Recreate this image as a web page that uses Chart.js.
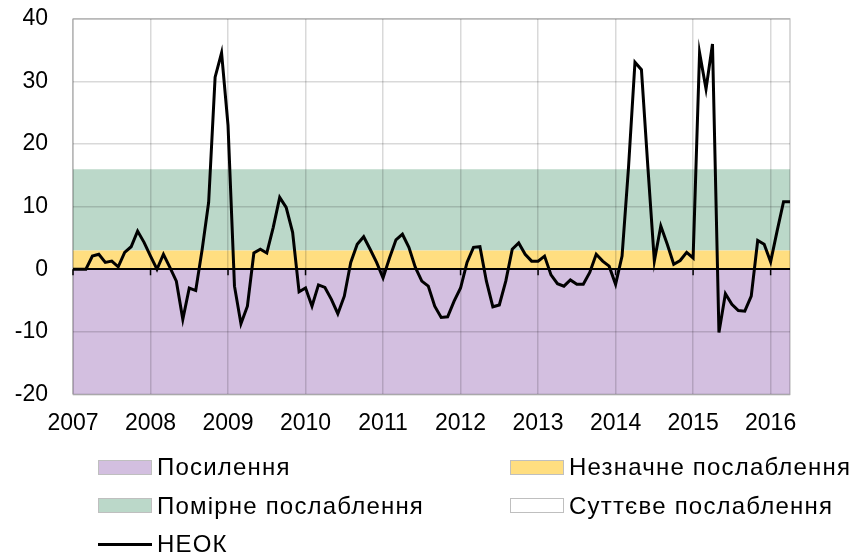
<!DOCTYPE html>
<html>
<head>
<meta charset="utf-8">
<script src="https://cdn.jsdelivr.net/npm/chart.js@4"></script>
<style>
  body { margin: 0; background: #fff; font-family: "Liberation Sans", Arial, sans-serif; }
  #wrap { position: relative; width: 855px; height: 557px; }
  #chartBox { position: absolute; left: 0; top: 0; width: 855px; height: 452px; }
  #legend {
    position: absolute; left: 98px; top: 448px;
    display: grid; grid-template-columns: 412px auto; grid-auto-rows: 38.5px;
    font-size: 24px; letter-spacing: 1.2px; color: #000;
  }
  .item { display: flex; align-items: center; white-space: nowrap; }
  .swatch { width: 52px; height: 13px; border: 1px solid #bfbfbf; margin-right: 5px; }
  .line { width: 54px; height: 0; border-top: 3px solid #000; margin-right: 5px; }
</style>
</head>
<body>
<div id="wrap">
  <div id="chartBox"><canvas id="myChart"></canvas></div>
  <div id="legend"></div>
</div>
<script>
//Data
const yearLabels = ['2007', '2008', '2009', '2010', '2011', '2012', '2013', '2014', '2015', '2016']
const neok = [
  0, 0, 0, 2.1, 2.4, 1.1, 1.3, 0.4, 2.7, 3.6, 6.1, 4.3,
  2.1, 0, 2.4, 0.3, -1.9, -8.0, -3.0, -3.4, 3.2, 10.7, 30.7, 34.6,
  23.0, -2.7, -8.7, -5.9, 2.6, 3.2, 2.6, 6.7, 11.5, 9.9, 5.9, -3.6,
  -3.0, -5.9, -2.5, -2.9, -4.8, -7.1, -4.3, 1.1, 4.0, 5.2, 3.2, 1.1,
  -1.4, 1.8, 4.7, 5.6, 3.5, 0.3, -1.9, -2.7, -5.9, -7.7, -7.6, -5.1,
  -3.0, 1.1, 3.5, 3.6, -1.9, -6.0, -5.7, -1.9, 3.2, 4.2, 2.4, 1.3,
  1.3, 2.1, -0.9, -2.3, -2.7, -1.7, -2.4, -2.4, -0.5, 2.4, 1.3, 0.5,
  -2.4, 2.1, 16.3, 33.1, 31.9, 16.3, 1.3, 6.9, 4.0, 0.8, 1.4, 2.7,
  1.8, 34.6, 28.8, 36.0, -10.1, -3.9, -5.6, -6.6, -6.7, -4.3, 4.6, 4.0,
  1.2, 6.1, 10.8, 10.8
]
const bandNames = ['Посилення', 'Незначне послаблення', 'Помірне послаблення', 'Суттєве послаблення']
const bandTops = [0, 3, 16, 40]
const yMin = -20
const yMax = 40
const yStep = 10

//Styles
const bandColors = ['#d3bfe0', '#ffde80', '#bbd8c9', '#ffffff']
const gridColor = 'rgba(0,0,0,0.15)'
const tickFont = { family: '"Liberation Sans", Arial, sans-serif', size: 23 }

const lastIdx = neok.length - 1

const datasets = [{
  label: 'НЕОК',
  data: neok.map((v, i) => ({ x: i, y: v })),
  borderColor: '#000',
  borderWidth: 3,
  pointRadius: 0,
  tension: 0,
  fill: false,
  order: 0,
}]
bandNames.forEach((name, k) => {
  datasets.push({
    label: name,
    data: [{ x: 0, y: bandTops[k] }, { x: lastIdx, y: bandTops[k] }],
    borderWidth: 0,
    borderColor: 'rgba(0,0,0,0)',
    backgroundColor: bandColors[k],
    pointRadius: 0,
    fill: k === 0 ? 'start' : '-1',
    order: 1,
  })
})

//Year tick marks on the zero line + frame
const axisMarks = {
  id: 'axisMarks',
  afterDraw(chart) {
    const { ctx, chartArea, scales: { x, y } } = chart
    const y0 = y.getPixelForValue(0)
    ctx.save()
    ctx.strokeStyle = '#000'
    ctx.lineWidth = 1.5
    x.ticks.forEach(t => {
      const px = x.getPixelForValue(t.value)
      ctx.beginPath()
      ctx.moveTo(px, y0)
      ctx.lineTo(px, y0 + 6)
      ctx.stroke()
    })
    ctx.strokeStyle = 'rgba(0,0,0,0.2)'
    ctx.lineWidth = 1.5
    ctx.strokeRect(chartArea.left, chartArea.top, chartArea.width, chartArea.height)
    ctx.restore()
  }
}

const ctx = document.getElementById('myChart')
const myChart = new Chart(ctx, {
  type: 'line',
  data: { datasets: datasets },
  plugins: [axisMarks],
  options: {
    responsive: true,
    maintainAspectRatio: false,
    animation: false,
    layout: { padding: { top: 0, right: 65, bottom: 0, left: 0 } },
    plugins: { legend: { display: false }, tooltip: { enabled: false } },
    scales: {
      x: {
        type: 'linear',
        min: 0,
        max: lastIdx,
        afterBuildTicks: scale => {
          scale.ticks = yearLabels.map((_, i) => ({ value: i * 12 }))
        },
        ticks: {
          autoSkip: false,
          maxRotation: 0,
          padding: 15,
          color: '#000',
          font: tickFont,
          callback: v => yearLabels[Math.round(v / 12)],
        },
        grid: { color: gridColor, lineWidth: 1.5, drawTicks: false, z: 1 },
        border: { display: false },
      },
      y: {
        min: yMin,
        max: yMax,
        afterFit: scale => {
          scale.width = 73
          scale.paddingTop = 19
          scale.paddingBottom = 0
        },
        ticks: { stepSize: yStep, padding: 25, color: '#000', font: tickFont },
        grid: {
          color: c => (c.tick && c.tick.value === 0 ? '#000' : gridColor),
          lineWidth: c => (c.tick && c.tick.value === 0 ? 2 : 1.5),
          drawTicks: false,
          z: 1,
        },
        border: { display: false },
      },
    },
  },
})

//HTML legend
const legendBox = document.getElementById('legend')
const legendOrder = [1, 2, 3, 4, 0]
legendOrder.forEach(i => {
  const ds = myChart.data.datasets[i]
  const item = document.createElement('div')
  const mark = document.createElement('span')
  const text = document.createElement('span')
  item.classList.add('item')
  if (i === 0) {
    mark.classList.add('line')
  } else {
    mark.classList.add('swatch')
    mark.style.background = ds.backgroundColor
  }
  text.textContent = ds.label
  item.appendChild(mark)
  item.appendChild(text)
  legendBox.appendChild(item)
})
</script>
</body>
</html>
